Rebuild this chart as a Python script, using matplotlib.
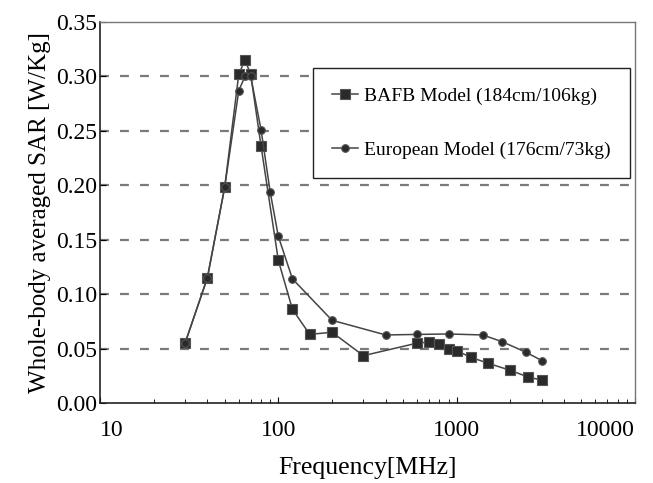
import matplotlib
matplotlib.use("Agg")
import matplotlib.pyplot as plt
from matplotlib.ticker import LogLocator, FixedLocator, FuncFormatter

# Data
bafb_freq = [30, 40, 50, 60, 65, 70, 80, 100, 120, 150, 200, 300, 600, 700, 800, 900,
             1000, 1200, 1500, 2000, 2500, 3000]
bafb_sar = [0.055, 0.115, 0.198, 0.302, 0.315, 0.302, 0.236, 0.131, 0.086, 0.063, 0.065,
            0.0435, 0.055, 0.056, 0.054, 0.050, 0.048, 0.042, 0.0365, 0.030, 0.024, 0.021]
euro_freq = [30, 40, 50, 60, 65, 70, 80, 90, 100, 120, 200, 400, 600, 900, 1400, 1800,
             2450, 3000]
euro_sar = [0.055, 0.115, 0.198, 0.287, 0.300, 0.300, 0.251, 0.194, 0.153, 0.114, 0.076,
            0.0625, 0.063, 0.0634, 0.0625, 0.0563, 0.0466, 0.039]
yticks = [0.00, 0.05, 0.10, 0.15, 0.20, 0.25, 0.30, 0.35]
xticks = [10, 100, 1000, 10000]
labels = ["BAFB Model (184cm/106kg)", "European Model (176cm/73kg)"]

plt.rcParams['font.family'] = ['Liberation Serif', 'DejaVu Serif']

fig = plt.figure(figsize=(6.53, 4.83), dpi=100)
ax = fig.add_axes([100/653, 1 - 403/483, 535/653, 381/483])

ax.set_xscale('log')
ax.set_xlim(10, 10000)
ax.set_ylim(0, 0.35)

for y in yticks[1:-1]:
    ax.axhline(y, color='#7a7a7a', lw=1.6, ls=(0, (4, 5)), zorder=1)

lc = '#444444'
ax.plot(bafb_freq, bafb_sar, color=lc, lw=1.1, marker='s', ms=7, mfc='#2a2a2a',
        mec='#555555', mew=0.8, label=labels[0], zorder=3)
ax.plot(euro_freq, euro_sar, color=lc, lw=1.1, marker='o', ms=5.5, mfc='#2a2a2a',
        mec='#555555', mew=0.8, label=labels[1], zorder=3)

ax.xaxis.set_major_locator(FixedLocator(xticks))
ax.xaxis.set_minor_locator(LogLocator(base=10, subs=range(2, 10)))
ax.xaxis.set_major_formatter(FuncFormatter(lambda v, p: f"{int(v)}"))
ax.xaxis.set_minor_formatter(FuncFormatter(lambda v, p: ""))
ax.set_yticks(yticks)
ax.yaxis.set_major_formatter(FuncFormatter(lambda v, p: f"{v:.2f}"))

ax.tick_params(axis='both', which='major', labelsize=17, direction='in', length=4, width=0.8)
ax.tick_params(axis='x', which='minor', direction='in', length=3, width=0.6)
ax.tick_params(axis='y', which='major', pad=2)
ax.tick_params(axis='x', which='major', pad=12)

for s in ['left', 'bottom']:
    ax.spines[s].set_color('#222222')
    ax.spines[s].set_linewidth(1.2)
for s in ['right', 'top']:
    ax.spines[s].set_color('#777777')
    ax.spines[s].set_linewidth(1.0)

ax.set_xlabel("Frequency[MHz]", fontsize=18.5, labelpad=12)
ax.set_ylabel("Whole-body averaged SAR [W/Kg]", fontsize=18, labelpad=4)

fig.canvas.draw()
xtl = ax.get_xticklabels()
xtl[0].set_horizontalalignment('left')
xtl[-1].set_horizontalalignment('right')

leg = ax.legend(loc='upper left', bbox_to_anchor=((313 - 100) / 535, (403 - 68) / 381),
                fontsize=14, frameon=True, fancybox=False, edgecolor='#222222',
                handlelength=1.3, handletextpad=0.3, labelspacing=1.85,
                borderpad=1.0, borderaxespad=0, framealpha=1)
leg.get_frame().set_linewidth(1.0)

fig.savefig("out.png", dpi=100)
